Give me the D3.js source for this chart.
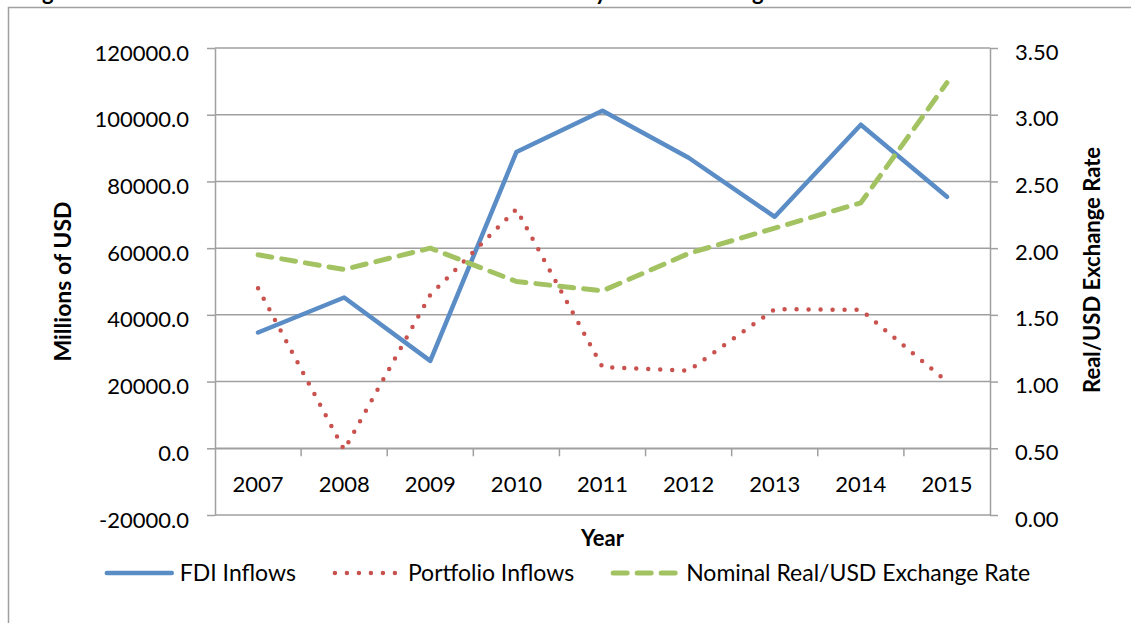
<!DOCTYPE html>
<html>
<head>
<meta charset="utf-8">
<script src="https://cdn.jsdelivr.net/npm/d3@7/dist/d3.min.js"></script>
<style>
    body { margin: 0; background: #fff; }
    svg text { font-family: Lato, "Open Sans", sans-serif; fill: #000; }
</style>
</head>
<body>
<script>
const years = ['2007', '2008', '2009', '2010', '2011', '2012', '2013', '2014', '2015'];
const fdiInflows = [34700, 45200, 26200, 88800, 101200, 87100, 69400, 97000, 75400];
const portfolioInflows = [48000, -500, 46000, 71700, 24300, 23300, 41700, 41500, 20000];
const exchangeRate = [1.95, 1.84, 2.00, 1.75, 1.68, 1.96, 2.15, 2.34, 3.24];
const leftTicks = [-20000, 0, 20000, 40000, 60000, 80000, 100000, 120000];
const rightTicks = [0, 0.5, 1, 1.5, 2, 2.5, 3, 3.5];
const seriesNames = ['FDI Inflows', 'Portfolio Inflows', 'Nominal Real/USD Exchange Rate'];

const WIDTH = 1131;
const HEIGHT = 623;
const PLOT = {left: 215, right: 990, top: 48, bottom: 515};
const GREY = '#a0a0a0';
const FONT_SIZE = 22;
const TICK = 8;

const STYLES = [
    {color: '#5a8cc6', width: 4.5, dash: null},
    {color: '#c9524e', width: 4.5, dash: '0,12'},
    {color: '#a3c363', width: 5, dash: '14,10'}
];

const svg = d3.select('body')
    .append('svg')
    .attr('width', WIDTH)
    .attr('height', HEIGHT);

// caption of the figure sits above the frame, only its tails are visible
svg.append('text')
    .attr('x', 24)
    .attr('y', -0.5)
    .attr('font-size', FONT_SIZE)
    .attr('font-weight', 'bold')
    .text('Figure 3: Annual FDI and Net Inflows to Brazil and Currency in Real Exchange Terms');

// chart frame, runs off the right and bottom edge
svg.append('rect')
    .attr('x', 8.5)
    .attr('y', 7.5)
    .attr('width', WIDTH + 20)
    .attr('height', HEIGHT + 20)
    .attr('fill', '#fff')
    .attr('stroke', GREY)
    .attr('stroke-width', 1.5);

const x = d3.scaleBand().domain(years).range([PLOT.left, PLOT.right]);
const yLeft = d3.scaleLinear().domain([-20000, 120000]).range([PLOT.bottom, PLOT.top]);
const yRight = d3.scaleLinear().domain([0, 3.5]).range([PLOT.bottom, PLOT.top]);
const cx = d => x(d) + x.bandwidth() / 2;

// plain hyphen for negatives, the way the spreadsheet prints them
const fixed = n => v => d3.format(`.${n}f`)(v).replace('\u2212', '-');

const styleAxis = (g) => {
    g.selectAll('path, line').attr('stroke', GREY).attr('stroke-width', 1.5);
    g.selectAll('text').attr('font-size', FONT_SIZE).attr('font-family', null);
};

// horizontal gridlines
svg.append('g')
    .attr('class', 'grid')
    .selectAll('line')
    .data(leftTicks)
    .join('line')
    .attr('x1', PLOT.left)
    .attr('x2', PLOT.right)
    .attr('y1', d => yLeft(d))
    .attr('y2', d => yLeft(d))
    .attr('stroke', GREY)
    .attr('stroke-width', 1.5);

const leftAxis = svg.append('g')
    .attr('transform', `translate(${PLOT.left},0)`)
    .call(d3.axisLeft(yLeft)
        .tickValues(leftTicks)
        .tickFormat(fixed(1))
        .tickSize(TICK)
        .tickSizeOuter(0)
        .tickPadding(18))
    .call(styleAxis);
leftAxis.selectAll('text').attr('dy', '0.55em');

const rightAxis = svg.append('g')
    .attr('transform', `translate(${PLOT.right},0)`)
    .call(d3.axisRight(yRight)
        .tickValues(rightTicks)
        .tickFormat(fixed(2))
        .tickSize(TICK)
        .tickSizeOuter(0)
        .tickPadding(17))
    .call(styleAxis);
rightAxis.selectAll('text').attr('dy', '0.5em');

// category axis crosses at zero of the primary scale
const xAxis = svg.append('g')
    .attr('transform', `translate(0,${yLeft(0)})`)
    .call(d3.axisBottom(x).tickSize(0).tickSizeOuter(0).tickPadding(28))
    .call(styleAxis);

xAxis.selectAll('.divider')
    .data(years.slice(1))
    .join('line')
    .attr('class', 'divider')
    .attr('x1', d => x(d))
    .attr('x2', d => x(d))
    .attr('y1', 0)
    .attr('y2', TICK)
    .attr('stroke', GREY)
    .attr('stroke-width', 1.5);

// axis titles
svg.append('text')
    .attr('transform', `translate(63,${(PLOT.top + PLOT.bottom) / 2}) rotate(-90)`)
    .attr('text-anchor', 'middle')
    .attr('dy', '0.35em')
    .attr('font-size', 23)
    .attr('font-weight', 'bold')
    .text('Millions of USD');

svg.append('text')
    .attr('transform', `translate(1092,270) rotate(-90)`)
    .attr('text-anchor', 'middle')
    .attr('dy', '0.35em')
    .attr('font-size', FONT_SIZE)
    .attr('font-weight', 'bold')
    .text('Real/USD Exchange Rate');

svg.append('text')
    .attr('x', (PLOT.left + PLOT.right) / 2)
    .attr('y', 546)
    .attr('text-anchor', 'middle')
    .attr('font-size', FONT_SIZE)
    .attr('font-weight', 'bold')
    .text('Year');

// series
const series = [
    {values: fdiInflows, y: yLeft},
    {values: portfolioInflows, y: yLeft},
    {values: exchangeRate, y: yRight}
];

series.forEach((s, i) => {
    const line = d3.line()
        .x((d, j) => cx(years[j]))
        .y(d => s.y(d));

    svg.append('path')
        .datum(s.values)
        .attr('d', line)
        .attr('fill', 'none')
        .attr('stroke', STYLES[i].color)
        .attr('stroke-width', STYLES[i].width)
        .attr('stroke-linecap', 'round')
        .attr('stroke-linejoin', 'round')
        .attr('stroke-dasharray', STYLES[i].dash);
});

// legend, laid out from measured label widths and centred under the plot
const LEGEND_Y = 573;
const LEGEND_FONT = 23;
const SYMBOL = 68;
const TEXT_GAP = 8;
const ITEM_GAP = 36;

const legend = svg.append('g').attr('class', 'legend');
const items = legend.selectAll('g')
    .data(seriesNames)
    .join('g');

items.append('text')
    .attr('x', SYMBOL + TEXT_GAP)
    .attr('y', LEGEND_Y)
    .attr('dy', '0.35em')
    .attr('font-size', LEGEND_FONT)
    .text(d => d);

let offset = 0;
items.each(function(d, i){
    const width = this.querySelector('text').getComputedTextLength();
    d3.select(this)
        .attr('transform', `translate(${offset},0)`)
        .insert('line', 'text')
        .attr('x1', 3)
        .attr('x2', SYMBOL)
        .attr('y1', LEGEND_Y)
        .attr('y2', LEGEND_Y)
        .attr('stroke', STYLES[i].color)
        .attr('stroke-width', STYLES[i].width)
        .attr('stroke-linecap', 'round')
        .attr('stroke-dasharray', STYLES[i].dash);
    offset += SYMBOL + TEXT_GAP + width + ITEM_GAP;
});

const total = offset - ITEM_GAP;
legend.attr('transform', `translate(${567 - total / 2},0)`);
</script>
</body>
</html>
